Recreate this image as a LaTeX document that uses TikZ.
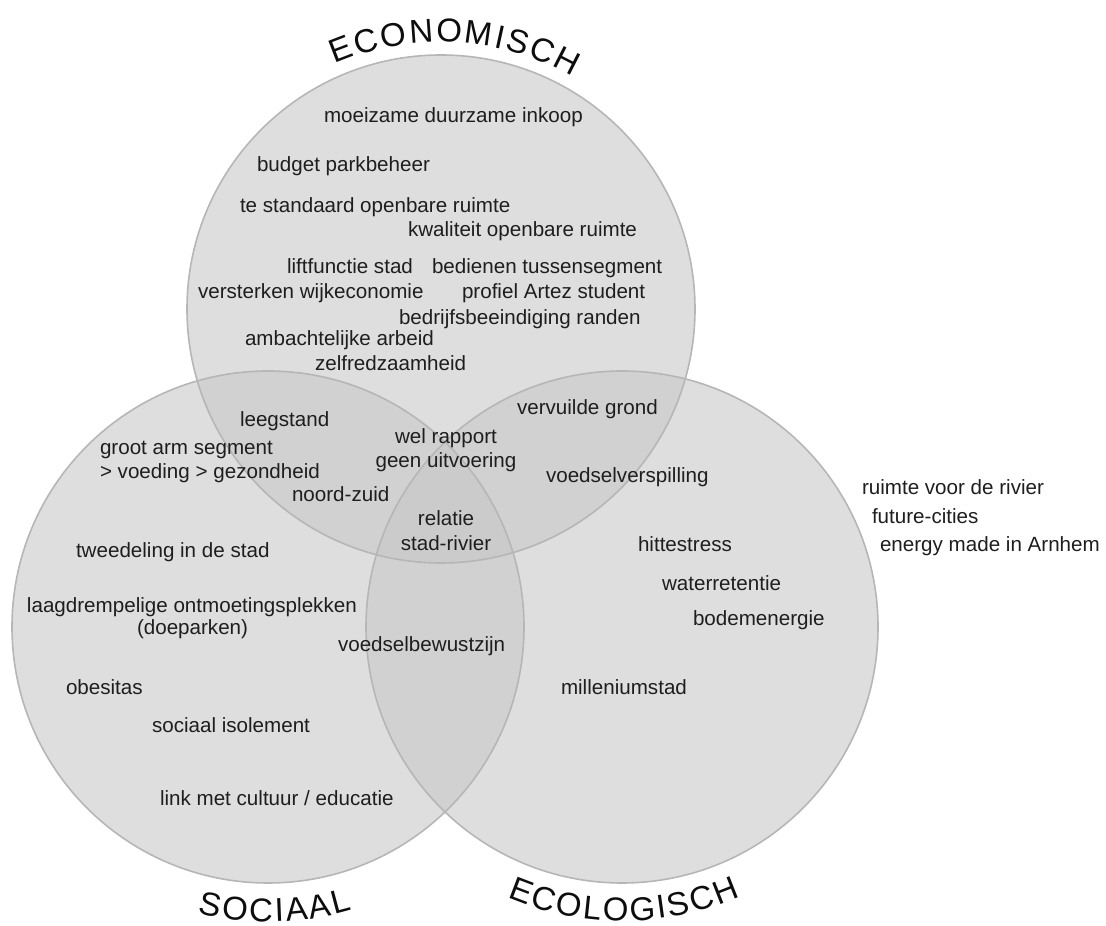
\documentclass[tikz,border=0pt]{standalone}
\usepackage{fontspec}
\setmainfont{Liberation Sans}
\definecolor{vfill}{RGB}{200,200,200}
\definecolor{vline}{RGB}{182,182,182}
\definecolor{vtext}{RGB}{30,30,30}
\begin{document}
\begin{tikzpicture}[x=1pt,y=1pt,
  venn/.style={fill=vfill, fill opacity=0.6},
  vennline/.style={draw=vline, line width=1.6pt},
  lbl/.style={inner sep=0pt, outer sep=0pt, text=vtext, font=\fontsize{20.6}{24}\selectfont, anchor=base west},
  clbl/.style={lbl, anchor=base},
  ttl/.style={inner sep=0pt, outer sep=0pt, text=black!95, font=\fontsize{33}{36}\selectfont, anchor=base}]
\useasboundingbox (0,0) rectangle (1106,926);
\coordinate (E) at (441,617);
\coordinate (S) at (268,299);
\coordinate (L) at (622,299);
% circles
\fill[venn] (E) circle[radius=254];
\fill[venn] (S) circle[radius=256];
\fill[venn] (L) circle[radius=256];
\draw[vennline] (E) circle[radius=254];
\draw[vennline] (S) circle[radius=256];
\draw[vennline] (L) circle[radius=256];
% curved titles, one letter at a time
\foreach \ch/\ang [count=\i] in {E/111.05, C/105.66, O/99.88, N/94.10, O/88.32, M/82.14, I/77.73, S/73.92, C/68.53, H/62.94}
  \node[ttl, rotate=\ang-90] (econ\i) at ([shift={(\ang:267)}]E) {\ch};
\foreach \ch/\ang [count=\i] in {S/258.35, O/263.39, C/268.60, I/272.26, A/275.76, A/280.44, L/284.79}
  \node[ttl, rotate=\ang+90] (soc\i) at ([shift={(\ang:295)}]S) {\ch};
\foreach \ch/\ang [count=\i] in {E/249.21, C/254.09, O/259.32, L/264.03, O/268.74, G/274.14, I/278.00, S/281.50, C/286.38, H/291.43}
  \node[ttl, rotate=\ang+90] (eco\i) at ([shift={(\ang:294)}]L) {\ch};
% economisch
\node[lbl] (t1) at (324,803) {moeizame duurzame inkoop};
\node[lbl] (t2) at (257,754) {budget parkbeheer};
\node[lbl] (t3) at (240,713) {te standaard openbare ruimte};
\node[lbl] (t4) at (408,689) {kwaliteit openbare ruimte};
\node[lbl] (t5) at (287,652) {liftfunctie stad};
\node[lbl] (t6) at (432,652) {bedienen tussensegment};
\node[lbl] (t7) at (198,627) {versterken wijkeconomie};
\node[lbl] (t8) at (462,627) {profiel Artez student};
\node[lbl] (t9) at (399,601) {bedrijfsbeeindiging randen};
\node[lbl] (t10) at (245,580) {ambachtelijke arbeid};
\node[lbl] (t11) at (315,555) {zelfredzaamheid};
% economisch-sociaal
\node[lbl] (t12) at (240,499) {leegstand};
\node[lbl] (t13) at (100,471) {groot arm segment};
\node[lbl] (t14) at (100,447) {> voeding > gezondheid};
\node[lbl] (t15) at (292,424) {noord-zuid};
% center
\node[clbl] (t16) at (446,482) {wel rapport};
\node[clbl] (t17) at (446,458) {geen uitvoering};
\node[clbl] (t18) at (446,400) {relatie};
\node[clbl] (t19) at (446,375) {stad-rivier};
% economisch-ecologisch
\node[lbl] (t20) at (517,511) {vervuilde grond};
\node[lbl] (t21) at (546,443) {voedselverspilling};
% sociaal
\node[lbl] (t22) at (76,368) {tweedeling in de stad};
\node[lbl] (t23) at (27,313) {laagdrempelige ontmoetingsplekken};
\node[lbl] (t24) at (137,291) {(doeparken)};
\node[lbl] (t25) at (338,274) {voedselbewustzijn};
\node[lbl] (t26) at (66,231) {obesitas};
\node[lbl] (t27) at (152,193) {sociaal isolement};
\node[lbl] (t28) at (160,120) {link met cultuur / educatie};
% ecologisch
\node[lbl] (t29) at (638,374) {hittestress};
\node[lbl] (t30) at (662,335) {waterretentie};
\node[lbl] (t31) at (693,300) {bodemenergie};
\node[lbl] (t32) at (561,231) {milleniumstad};
% outside
\node[lbl] (t33) at (862,431) {ruimte voor de rivier};
\node[lbl] (t34) at (872,402) {future-cities};
\node[lbl] (t35) at (880,374) {energy made in Arnhem};
\end{tikzpicture}
\end{document}
